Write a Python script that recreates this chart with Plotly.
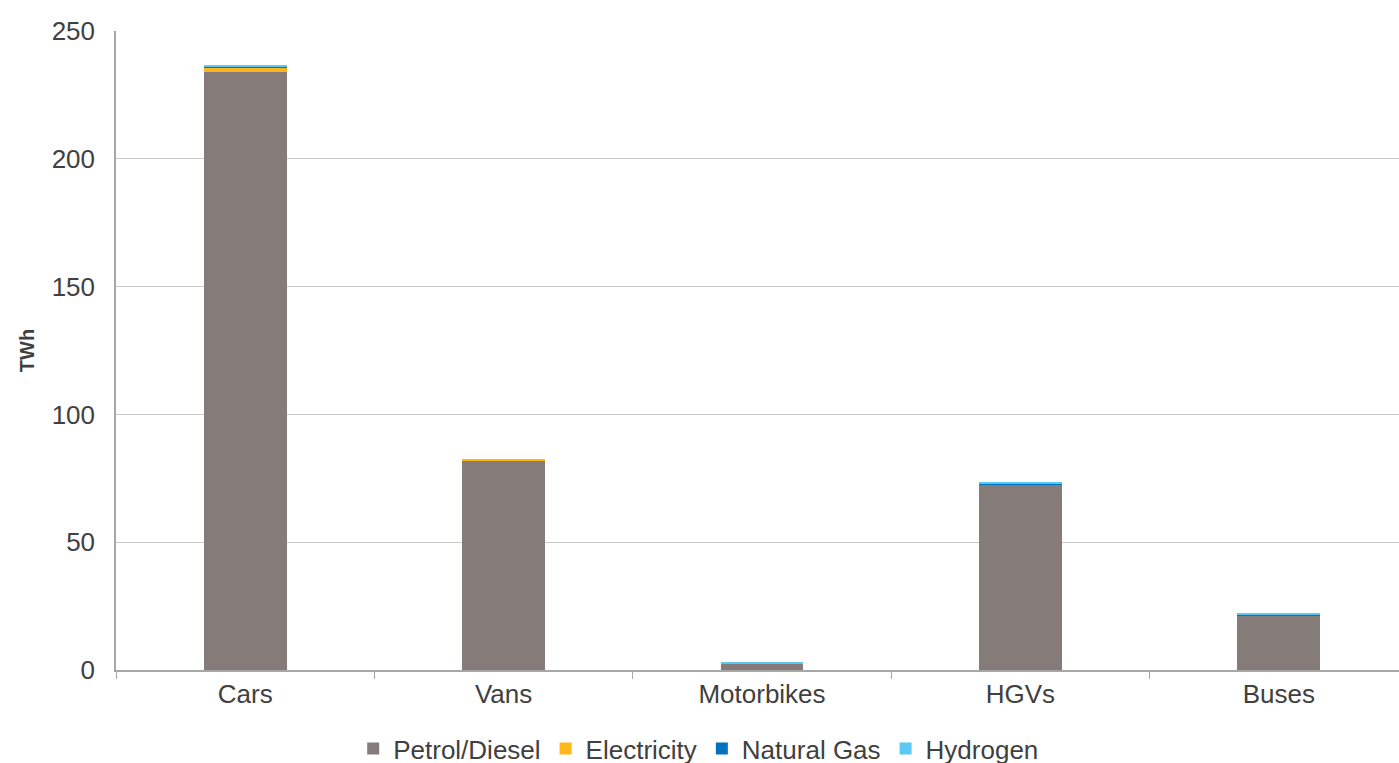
import plotly.graph_objects as go

categories = ["Cars", "Vans", "Motorbikes", "HGVs", "Buses"]
petrol_diesel = [234.0, 81.8, 2.6, 72.6, 21.5]
electricity = [1.8, 0.6, 0.0, 0.0, 0.0]
natural_gas = [0.1, 0.0, 0.0, 0.4, 0.2]
hydrogen = [0.8, 0.0, 0.4, 0.4, 0.5]

series = [
    ("Petrol/Diesel", petrol_diesel, "#857b78"),
    ("Electricity", electricity, "#fdb71a"),
    ("Natural Gas", natural_gas, "#0073bd"),
    ("Hydrogen", hydrogen, "#5cc8f4"),
]

fig = go.Figure()
for name, vals, col in series:
    fig.add_trace(go.Bar(x=categories, y=vals, name=name, marker=dict(color=col, line=dict(width=0))))

FONT = "Liberation Sans, Arial, Helvetica, sans-serif"
TXT = "#404040"

fig.update_layout(
    barmode="stack",
    bargap=0.68,
    width=1408, height=772,
    margin=dict(l=116, r=0, t=31, b=101),
    paper_bgcolor="white", plot_bgcolor="white",
    font=dict(family=FONT, size=26, color=TXT),
    showlegend=True,
    legend=dict(orientation="h", x=0.451, xanchor="center", y=-0.122, yanchor="middle",
                font=dict(size=26, color=TXT), traceorder="normal"),
    xaxis=dict(showline=True, linecolor="#a6a6a6", linewidth=1.5, ticks="outside",
               tickson="boundaries", ticklen=7, tickcolor="#a6a6a6", showgrid=False,
               tickfont=dict(size=26, color=TXT)),
    yaxis=dict(range=[0, 250], dtick=50, showline=True, linecolor="#a6a6a6", linewidth=1.5,
               showgrid=True, gridcolor="#c8c8c8", gridwidth=1, zeroline=False,
               ticks="", ticklabelstandoff=14,
               tickfont=dict(size=26, color=TXT),
               title=dict(text="<b>TWh</b>", font=dict(size=20, color=TXT), standoff=12)),
)

fig.write_html("out.html", config={"displayModeBar": False},
               post_script="document.body.style.margin='0';document.body.style.overflow='hidden';")
